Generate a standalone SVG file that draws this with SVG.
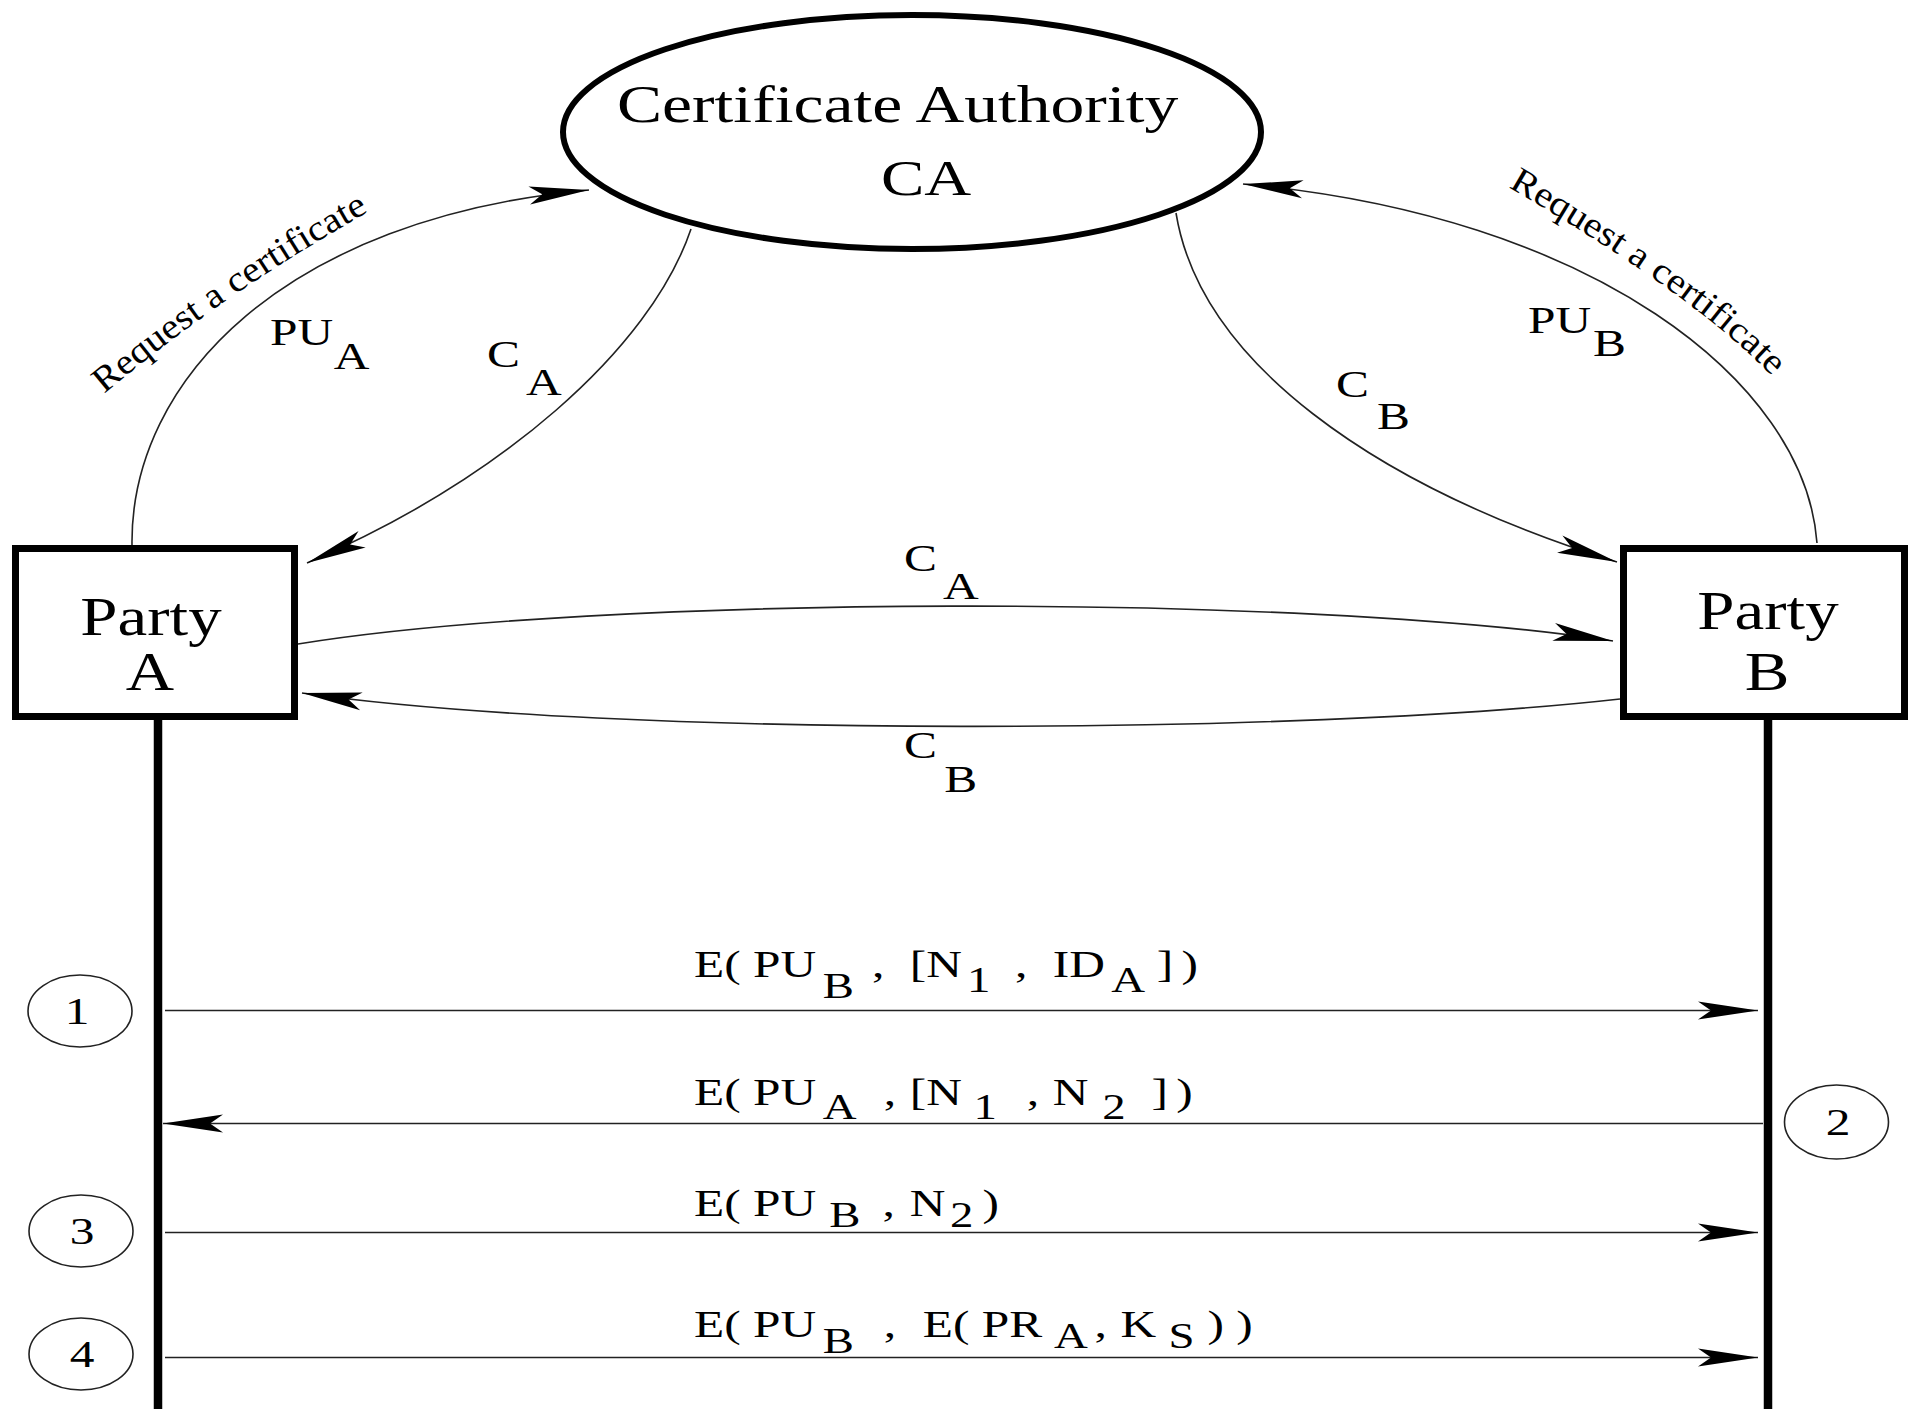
<svg xmlns="http://www.w3.org/2000/svg" width="1923" height="1409" viewBox="0 0 1923 1409">
  <defs>
    <style>
      text { font-family: "Liberation Serif", "Times New Roman", serif; fill: #000; }
      .title { font-size: 52px; }
      .party { font-size: 54px; }
      .lbl { font-size: 38px; }
      .sub { font-size: 36px; }
      .req { font-size: 36px; }
      .num { font-size: 38px; }
      .thick { fill: none; stroke: #000; stroke-width: 7; }
      .life { fill: none; stroke: #000; stroke-width: 8.5; }
      .conn { fill: none; stroke: #222; stroke-width: 1.6; }
      .step { fill: none; stroke: #222; stroke-width: 1.6; }
    </style>
    <marker id="arrow" markerUnits="userSpaceOnUse" viewBox="-62 -11 64 22" refX="0" refY="0" markerWidth="64" markerHeight="22" orient="auto">
      <path d="M0,0 L-60,-9 L-47,0 L-60,9 Z" fill="#000"/>
    </marker>
    <!-- baselines for the curved request labels (run on past the text end) -->
    <path id="reqA" d="M 104 394 Q 228 290 372 210 L 420 183"/>
    <path id="reqB" d="M 1508 187 Q 1686 290 1766 370 L 1800 404"/>
  </defs>

  <rect width="1923" height="1409" fill="#fff"/>

  <!-- Certificate authority -->
  <g id="ca">
    <ellipse cx="912" cy="132" rx="349" ry="117" fill="none" stroke="#000" stroke-width="6"/>
    <text class="title" transform="translate(617 122) scale(1.3 1)">Certificate Authority</text>
    <text class="title" transform="translate(881 195) scale(1.3 1)" style="font-size:50px">CA</text>
  </g>

  <!-- Party A with its lifeline -->
  <g id="partyA">
    <rect x="15.5" y="548.5" width="279" height="168" class="thick"/>
    <text class="party" text-anchor="middle" transform="translate(151 635) scale(1.24 1)">Party</text>
    <text class="party" text-anchor="middle" transform="translate(150 690) scale(1.24 1)">A</text>
    <line x1="158" y1="720" x2="158" y2="1409" class="life"/>
  </g>

  <!-- Party B with its lifeline -->
  <g id="partyB">
    <rect x="1623.5" y="548.5" width="281" height="168" class="thick"/>
    <text class="party" text-anchor="middle" transform="translate(1768 629) scale(1.24 1)">Party</text>
    <text class="party" text-anchor="middle" transform="translate(1767 690) scale(1.24 1)">B</text>
    <line x1="1768" y1="720" x2="1768" y2="1409" class="life"/>
  </g>

  <!-- step numbers -->
  <g id="step1">
    <ellipse cx="80" cy="1011" rx="52" ry="36" class="step"/>
    <text class="num" text-anchor="middle" transform="translate(77 1024) scale(1.3 1)">1</text>
  </g>
  <g id="step2">
    <ellipse cx="1836.5" cy="1122" rx="52" ry="37" class="step"/>
    <text class="num" text-anchor="middle" transform="translate(1838 1135) scale(1.3 1)">2</text>
  </g>
  <g id="step3">
    <ellipse cx="81" cy="1231" rx="52" ry="36" class="step"/>
    <text class="num" text-anchor="middle" transform="translate(82 1244) scale(1.3 1)">3</text>
  </g>
  <g id="step4">
    <ellipse cx="81" cy="1354" rx="52" ry="36" class="step"/>
    <text class="num" text-anchor="middle" transform="translate(82 1367) scale(1.3 1)">4</text>
  </g>

  <!-- connectors -->
  <g id="connectors">
    <!-- certificate requests -->
    <path class="conn" d="M 132 545 C 130 380, 285 218, 589 190" marker-end="url(#arrow)"/>
    <path class="conn" d="M 1817 543 C 1805 380, 1590 215, 1243 184" marker-end="url(#arrow)"/>
    <!-- certificates issued -->
    <path class="conn" d="M 691 229 C 650 350, 500 480, 307 563" marker-end="url(#arrow)"/>
    <path class="conn" d="M 1176 213 C 1200 360, 1370 485, 1617 562" marker-end="url(#arrow)"/>
    <!-- certificate exchange -->
    <path class="conn" d="M 298 644 C 600 595, 1300 593, 1613 641" marker-end="url(#arrow)"/>
    <path class="conn" d="M 1620 699 C 1300 735, 620 738, 302 693" marker-end="url(#arrow)"/>
    <!-- handshake messages -->
    <path class="conn" d="M 165 1010.5 L 1758 1010.5" marker-end="url(#arrow)"/>
    <path class="conn" d="M 1763 1123.5 L 163 1123.5" marker-end="url(#arrow)"/>
    <path class="conn" d="M 165 1232.5 L 1758 1232.5" marker-end="url(#arrow)"/>
    <path class="conn" d="M 165 1357.5 L 1758 1357.5" marker-end="url(#arrow)"/>
  </g>

  <!-- connector labels -->
  <g id="labels">
    <text class="req" textLength="322" lengthAdjust="spacingAndGlyphs"><textPath href="#reqA">Request a certificate</textPath></text>
    <text class="req" textLength="326" lengthAdjust="spacingAndGlyphs"><textPath href="#reqB">Request a certificate</textPath></text>

    <text class="lbl" transform="translate(270 0) scale(1.3 1)"><tspan x="0" y="345">PU</tspan><tspan x="49" y="369">A</tspan></text>
    <text class="lbl" transform="translate(487 0) scale(1.3 1)"><tspan x="0" y="367">C</tspan><tspan x="30" y="395">A</tspan></text>
    <text class="lbl" transform="translate(1528 0) scale(1.3 1)"><tspan x="0" y="333">PU</tspan><tspan x="50" y="356">B</tspan></text>
    <text class="lbl" transform="translate(1336 0) scale(1.3 1)"><tspan x="0" y="397">C</tspan><tspan x="31.5" y="429">B</tspan></text>
    <text class="lbl" transform="translate(904 0) scale(1.3 1)"><tspan x="0" y="571">C</tspan><tspan x="30" y="599">A</tspan></text>
    <text class="lbl" transform="translate(904 0) scale(1.3 1)"><tspan x="0" y="758">C</tspan><tspan x="31" y="792">B</tspan></text>

    <text class="lbl" transform="translate(694 0) scale(1.3 1)"><tspan x="0" y="977">E( PU</tspan><tspan class="sub" x="99" y="998">B</tspan><tspan x="137" y="977">,</tspan><tspan x="166" y="977">[N</tspan><tspan class="sub" x="210" y="992">1</tspan><tspan x="247" y="977">,</tspan><tspan x="276" y="977">ID</tspan><tspan class="sub" x="321" y="992">A</tspan><tspan x="356" y="977">]</tspan><tspan x="375" y="977">)</tspan></text>
    <text class="lbl" transform="translate(694 0) scale(1.3 1)"><tspan x="0" y="1105">E( PU</tspan><tspan class="sub" x="99" y="1119">A</tspan><tspan x="146" y="1105">,</tspan><tspan x="166" y="1105">[N</tspan><tspan class="sub" x="215" y="1119">1</tspan><tspan x="256" y="1105">,</tspan><tspan x="276" y="1105">N</tspan><tspan class="sub" x="314" y="1119">2</tspan><tspan x="352" y="1105">]</tspan><tspan x="371" y="1105">)</tspan></text>
    <text class="lbl" transform="translate(694 0) scale(1.3 1)"><tspan x="0" y="1216">E( PU</tspan><tspan class="sub" x="104" y="1227">B</tspan><tspan x="145" y="1216">,</tspan><tspan x="166" y="1216">N</tspan><tspan class="sub" x="197" y="1227">2</tspan><tspan x="222" y="1216">)</tspan></text>
    <text class="lbl" transform="translate(694 0) scale(1.3 1)"><tspan x="0" y="1337">E( PU</tspan><tspan class="sub" x="99" y="1353">B</tspan><tspan x="146" y="1337">,</tspan><tspan x="176" y="1337">E( PR</tspan><tspan class="sub" x="277" y="1348">A</tspan><tspan x="308" y="1337">,</tspan><tspan x="328" y="1337">K</tspan><tspan class="sub" x="365" y="1348">S</tspan><tspan x="395" y="1337">) )</tspan></text>
  </g>
</svg>
